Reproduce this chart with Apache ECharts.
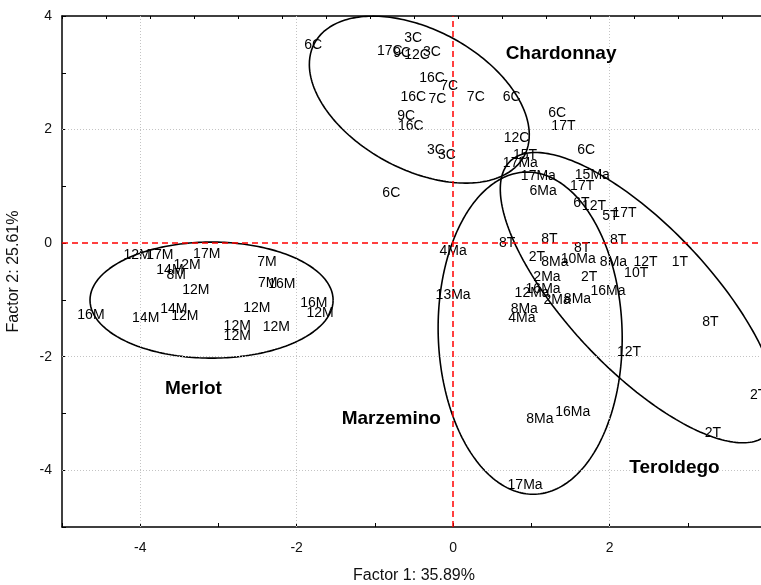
<!DOCTYPE html>
<html>
<head>
<meta charset="utf-8">
<script src="https://cdn.jsdelivr.net/npm/echarts@6/dist/echarts.min.js"></script>
<style>
  html, body { margin: 0; padding: 0; background: #ffffff; }
  #chart { width: 761px; height: 585px; }
</style>
</head>
<body>
<div id="chart"></div>
<script>
// ---- Sample scores on the first two factors ----
const chardonnayNames = ['6C','3C','17C','9C','12C','3C','16C','7C','16C','7C','7C','6C','9C','16C','3C','3C','12C','6C','6C','6C'];
const chardonnayX = [-1.79,-0.51,-0.81,-0.65,-0.46,-0.27,-0.27,-0.05,-0.51,-0.20,0.29,0.75,-0.60,-0.54,-0.22,-0.08,0.81,-0.79,1.33,1.70];
const chardonnayY = [3.49,3.61,3.38,3.35,3.31,3.37,2.91,2.77,2.57,2.54,2.57,2.57,2.24,2.06,1.64,1.55,1.85,0.88,2.29,1.64];

const teroldegoNames = ['17T','15T','17T','6T','12T','5T','17T','8T','8T','8T','8T','2T','2T','12T','10T','1T','8T','12T','2T','2T'];
const teroldegoX = [1.41,0.92,1.65,1.64,1.80,2.01,2.19,0.69,1.23,1.65,2.11,1.07,1.74,2.46,2.34,2.90,3.29,2.25,3.90,3.32];
const teroldegoY = [2.06,1.55,1.00,0.70,0.65,0.48,0.53,0.00,0.07,-0.09,0.05,-0.25,-0.60,-0.33,-0.53,-0.33,-1.39,-1.92,-2.67,-3.35];

const marzeminoNames = ['17Ma','17Ma','6Ma','15Ma','4Ma','8Ma','10Ma','8Ma','2Ma','16Ma','13Ma','12Ma','16Ma','2Ma','8Ma','8Ma','4Ma','8Ma','16Ma','17Ma'];
const marzeminoX = [0.86,1.09,1.15,1.78,0.00,1.30,1.60,2.05,1.20,1.98,0.00,1.01,1.15,1.33,1.59,0.91,0.88,1.11,1.53,0.92];
const marzeminoY = [1.41,1.18,0.92,1.20,-0.14,-0.33,-0.28,-0.33,-0.60,-0.85,-0.92,-0.88,-0.81,-1.00,-0.99,-1.16,-1.32,-3.10,-2.98,-4.26];

const merlotNames = ['12M','17M','17M','12M','14M','8M','12M','7M','7M','16M','16M','12M','12M','16M','14M','14M','12M','12M','12M','12M'];
const merlotX = [-4.04,-3.75,-3.15,-3.40,-3.62,-3.54,-3.29,-2.38,-2.37,-2.19,-1.78,-1.70,-2.51,-4.63,-3.93,-3.57,-3.43,-2.76,-2.76,-2.26];
const merlotY = [-0.21,-0.21,-0.19,-0.39,-0.48,-0.56,-0.83,-0.33,-0.70,-0.72,-1.06,-1.23,-1.15,-1.27,-1.32,-1.16,-1.29,-1.46,-1.64,-1.48];

// ---- Group names and where they are written ----
const groupNames = ['Chardonnay','Merlot','Marzemino','Teroldego'];
const groupX = [1.38,-3.32,-0.79,2.83];
const groupY = [3.33,-2.56,-3.10,-3.95];

// ---- Group ellipses: centre and the two semi-axis vectors (factor units) ----
const ellipseCentres = [[-0.432, 2.527], [-3.088, -1.004], [0.985, -1.586], [2.378, -0.960]];
const ellipseAxisU = [[1.341, -0.992], [1.554, 0], [1.176, 0], [1.646, -2.407]];
const ellipseAxisV = [[-0.422, -1.085], [0, -1.022], [0.038, -2.837], [-0.664, -0.862]];

// ---- Axis ticks ----
const xTickLabels = [-4, -2, 0, 2, 4];
const yTickLabels = [-4, -2, 0, 2, 4];
const xGridValues = [-4, -2, 2];
const yGridValues = [-4, -2, 2];

const FONT = "'Liberation Sans', Arial, Helvetica, sans-serif";

function pointsOf(names, xs, ys) {
  return names.map((n, i) => ({ name: n, value: [xs[i], ys[i]] }));
}

function ellipseOutline(k) {
  const c = ellipseCentres[k], u = ellipseAxisU[k], v = ellipseAxisV[k];
  const pts = [];
  const steps = 240;
  for (let i = 0; i <= steps; i++) {
    const t = (i / steps) * Math.PI * 2;
    const ct = Math.cos(t), st = Math.sin(t);
    pts.push([c[0] + ct * u[0] + st * v[0], c[1] + ct * u[1] + st * v[1]]);
  }
  return pts;
}

function labelSeries(name, data) {
  return {
    name: name,
    type: 'scatter',
    symbolSize: 0,
    silent: true,
    z: 4,
    itemStyle: { opacity: 1 },
    data: data,
    label: {
      show: true,
      position: 'inside',
      formatter: p => p.name,
      color: '#000000',
      textBorderWidth: 0,
      fontSize: 14,
      fontFamily: FONT
    }
  };
}

const gridLineStyle = { color: '#c4c4c4', type: [1, 2], width: 1 };
const zeroLineStyle = { color: '#ff0000', type: [6, 4], width: 1.5 };

const series = [
  {
    name: 'reference lines',
    type: 'line',
    data: [],
    silent: true,
    z: 1,
    markLine: {
      silent: true,
      symbol: 'none',
      label: { show: false },
      animation: false,
      data: [
        ...xGridValues.map(v => ({ xAxis: v, lineStyle: gridLineStyle })),
        ...yGridValues.map(v => ({ yAxis: v, lineStyle: gridLineStyle })),
        { xAxis: 0, lineStyle: zeroLineStyle },
        { yAxis: 0, lineStyle: zeroLineStyle }
      ]
    }
  },
  labelSeries('Chardonnay', pointsOf(chardonnayNames, chardonnayX, chardonnayY)),
  labelSeries('Teroldego', pointsOf(teroldegoNames, teroldegoX, teroldegoY)),
  labelSeries('Marzemino', pointsOf(marzeminoNames, marzeminoX, marzeminoY)),
  labelSeries('Merlot', pointsOf(merlotNames, merlotX, merlotY)),
  {
    name: 'group names',
    type: 'scatter',
    symbolSize: 0,
    silent: true,
    z: 5,
    itemStyle: { opacity: 1 },
    data: groupNames.map((n, i) => ({ name: n, value: [groupX[i], groupY[i]] })),
    label: {
      show: true,
      position: 'inside',
      formatter: p => p.name,
      color: '#000000',
      textBorderWidth: 0,
      fontSize: 19,
      fontWeight: 'bold',
      fontFamily: FONT
    }
  }
];

groupNames.forEach((n, k) => {
  series.push({
    name: n + ' ellipse',
    type: 'line',
    data: ellipseOutline(k),
    showSymbol: false,
    smooth: false,
    silent: true,
    clip: true,
    z: 3,
    lineStyle: { color: '#000000', width: 1.6 }
  });
});

const chart = echarts.init(document.getElementById('chart'), null, { renderer: 'canvas' });
chart.setOption({
  animation: false,
  backgroundColor: '#ffffff',
  textStyle: { fontFamily: FONT },
  grid: { left: 62, right: -5, top: 16, bottom: 58, containLabel: false, outerBoundsMode: 'none' },
  xAxis: [
    {
      type: 'value',
      min: -5, max: 4, interval: 1,
      position: 'bottom',
      axisLine: { onZero: false, lineStyle: { color: '#000000', width: 1.5 } },
      axisTick: { inside: true, length: 4, lineStyle: { color: '#000000' } },
      axisLabel: {
        formatter: v => (xTickLabels.indexOf(v) >= 0 ? String(v) : ''),
        color: '#111111', fontSize: 14, margin: 14, fontFamily: FONT,
        showMinLabel: true, showMaxLabel: true
      },
      splitLine: { show: false },
      name: 'Factor 1: 35.89%',
      nameLocation: 'middle',
      nameGap: 41,
      nameTextStyle: { color: '#111111', fontSize: 16, fontFamily: FONT }
    },
    {
      type: 'value',
      min: 0, max: 16, interval: 1,
      position: 'top',
      axisLine: { onZero: false, lineStyle: { color: '#000000', width: 1.5 } },
      axisTick: { inside: true, length: 3, lineStyle: { color: '#000000' } },
      axisLabel: { show: false },
      splitLine: { show: false }
    }
  ],
  yAxis: {
    type: 'value',
    min: -5, max: 4, interval: 1,
    axisLine: { show: true, onZero: false, lineStyle: { color: '#000000', width: 1.5 } },
    axisTick: { show: true, inside: true, length: 4, lineStyle: { color: '#000000' } },
    axisLabel: {
      formatter: v => (yTickLabels.indexOf(v) >= 0 ? String(v) : ''),
      color: '#111111', fontSize: 14, margin: 10, fontFamily: FONT,
      showMinLabel: true, showMaxLabel: true
    },
    splitLine: { show: false },
    name: 'Factor 2: 25.61%',
    nameLocation: 'middle',
    nameGap: 40,
    nameTextStyle: { color: '#111111', fontSize: 16, fontFamily: FONT }
  },
  series: series
});
</script>
</body>
</html>
